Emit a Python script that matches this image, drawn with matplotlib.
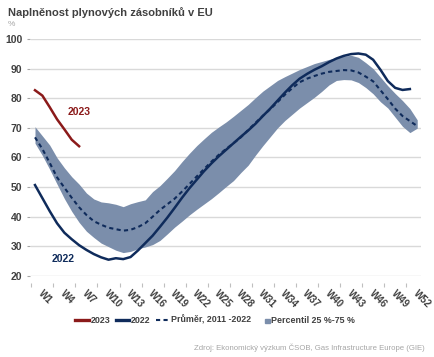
import numpy as np
import matplotlib.pyplot as plt
import matplotlib.patches as mpatches
from matplotlib.lines import Line2D
from matplotlib.legend_handler import HandlerPatch
from matplotlib.transforms import ScaledTranslation

plt.rcParams['font.family'] = ['Liberation Sans', 'DejaVu Sans']

# weeks of the year (the 2011-2022 average also has a week 53)
weeks = np.arange(1, 54)
tick_weeks = np.arange(1, 53, 3)
tick_labels = ['W{}'.format(w) for w in tick_weeks]

y2023 = [82.7, 80.9, 77.0, 72.9, 69.5, 66.0, 63.8]

y2022 = [50.7, 46.3, 41.9, 37.8, 34.6, 32.4, 30.4, 28.8, 27.4, 26.3,
         25.5, 26.0, 25.7, 26.4, 28.6, 31.1, 33.6, 36.6, 39.7, 43.0,
         46.4, 49.6, 52.5, 55.4, 58.0, 60.4, 62.6, 64.8, 67.0, 69.1,
         71.4, 74.0, 76.5, 79.2, 81.9, 84.4, 86.6, 88.2, 89.6, 90.8,
         92.2, 93.4, 94.3, 94.9, 95.1, 94.7, 93.0, 89.6, 85.8, 83.5,
         82.8, 83.1]

avg = [66.8, 62.9, 58.2, 53.3, 49.8, 46.4, 43.2, 40.6, 38.5, 37.3,
       36.3, 35.8, 35.3, 35.6, 36.5, 37.8, 40.0, 42.3, 44.2, 46.1,
       48.5, 51.0, 53.6, 56.1, 58.6, 60.9, 62.9, 64.8, 66.8, 69.3,
       71.7, 74.1, 76.3, 78.7, 81.2, 83.4, 85.4, 86.6, 87.5, 88.3,
       88.9, 89.2, 89.5, 89.4, 88.7, 87.3, 85.7, 82.7, 79.7, 76.5,
       74.0, 72.3, 70.6]

p75 = [70.4, 67.3, 64.2, 59.9, 56.5, 53.5, 51.0, 48.0, 46.0, 45.0,
       44.7, 44.2, 43.4, 44.4, 45.1, 45.7, 48.5, 50.5, 53.0, 55.6,
       58.6, 61.4, 64.0, 66.3, 68.5, 70.3, 72.0, 73.9, 75.9, 77.9,
       80.2, 82.4, 84.2, 86.0, 87.3, 88.5, 89.7, 90.7, 91.7, 92.4,
       93.1, 93.7, 94.2, 94.5, 93.8, 92.0, 90.0, 87.1, 84.2, 81.6,
       79.2, 76.5, 72.7]

p25 = [64.8, 60.7, 56.0, 51.0, 46.1, 41.8, 38.1, 35.1, 33.0, 31.1,
       29.9, 28.7, 27.9, 28.3, 29.2, 29.8, 30.6, 32.0, 34.2, 36.5,
       38.5, 40.6, 42.5, 44.3, 46.1, 48.1, 50.2, 52.2, 54.9, 57.4,
       60.8, 64.0, 67.0, 70.0, 72.5, 74.6, 76.7, 78.5, 80.3, 82.3,
       84.5, 86.0, 86.3, 86.2, 85.3, 83.6, 81.5, 78.8, 76.7, 73.6,
       70.5, 68.4, 69.9]

red = '#8b1a1a'
navy = '#0f2b5b'
band = '#7b8eab'
text_col = '#404040'

fig = plt.figure(figsize=(4.35, 3.57), dpi=100)
ax = fig.add_axes([0.072, 0.2269, 0.8956, 0.6639])

ax.fill_between(weeks, p25, p75, color=band, lw=0, zorder=1)
ax.plot(weeks, avg, color=navy, lw=1.5, ls=(0, (2, 1.6)), zorder=2)
ax.plot(weeks[:len(y2022)], y2022, color=navy, lw=1.8, zorder=3)
ax.plot(weeks[:len(y2023)], y2023, color=red, lw=1.8, zorder=3)

ax.text(7.0, 75.4, '2023', color=red, fontsize=7.5, fontweight='bold',
        ha='center', va='center')
ax.text(4.8, 25.8, '2022', color=navy, fontsize=7.5, fontweight='bold',
        ha='center', va='center')

ax.set_xlim(0.5, 53.5)
ax.set_ylim(20, 100)
ax.set_yticks(range(20, 101, 10))
ax.grid(axis='y', color='#d9d9d9', lw=1)
ax.set_axisbelow(True)

for s in ax.spines.values():
    s.set_visible(False)
ax.spines['bottom'].set_position(('outward', 5))
ax.spines['left'].set_position(('outward', 1))

# tick marks sit on the category borders, labels on every 3rd week
ax.set_xticks(np.arange(0.5, 52, 3))
ax.set_xticklabels([])
ax.set_xticks(tick_weeks, minor=True)
ax.set_xticklabels(tick_labels, minor=True, rotation=-45, ha='left', va='top',
                   rotation_mode='anchor', fontsize=7, fontweight='bold',
                   color=text_col)
ax.tick_params(axis='x', which='major', length=3, color='#bfbfbf', width=0.8)
ax.tick_params(axis='x', which='minor', length=0, pad=4)
ax.tick_params(axis='y', length=2.5, color='#a6a6a6', width=0.8, pad=3,
               labelsize=7.5, labelcolor=text_col)
for lab in ax.get_yticklabels():
    lab.set_fontweight('bold')
shift = ScaledTranslation(0.085, 0, fig.dpi_scale_trans)
for lab in ax.xaxis.get_minorticklabels():
    lab.set_transform(lab.get_transform() + shift)

fig.text(0.018, 0.966, 'Naplněnost plynových zásobníků v EU', fontsize=8,
         fontweight='bold', color=text_col, ha='left', va='center')
fig.text(0.018, 0.93, '%', fontsize=6, color='#a6a6a6', ha='left', va='center')


def small_square(legend, orig_handle, xdescent, ydescent, width, height, fontsize):
    s = height * 0.75
    return mpatches.Rectangle((width - xdescent - s, -ydescent + (height - s) / 2 - 1), s, s)


handles = [Line2D([], [], color=red, lw=2.4),
           Line2D([], [], color=navy, lw=2.4),
           Line2D([], [], color=navy, lw=1.5, ls=(0, (2, 1.6))),
           mpatches.Patch(color=band)]
labels = ['2023', '2022', 'Průměr, 2011 -2022', 'Percentil 25 %-75 %']
fig.legend(handles, labels, loc='center', bbox_to_anchor=(0.495, 1 - 320 / 357),
           ncol=4, frameon=False, handlelength=1.5, handletextpad=0.2,
           columnspacing=0.6, prop={'size': 6.4, 'weight': 'bold'},
           labelcolor=text_col,
           handler_map={mpatches.Patch: HandlerPatch(patch_func=small_square)})

fig.text(425 / 435, 1 - 348 / 357,
         'Zdroj: Ekonomický výzkum ČSOB, Gas Infrastructure Europe (GIE)',
         fontsize=5.6, color='#a6a6a6', ha='right', va='center')

fig.savefig('out.png', dpi=100)
